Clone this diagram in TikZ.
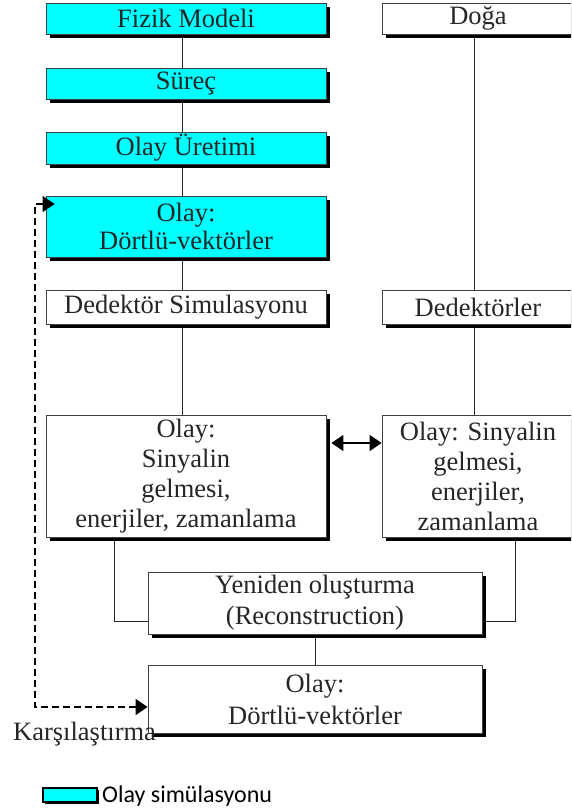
\documentclass[tikz,border=0pt]{standalone}
\usepackage{fontspec}
\setmainfont{Liberation Serif}
\newfontfamily\legendfont{Carlito}
\usetikzlibrary{shadows,arrows.meta,backgrounds}
\definecolor{simcyan}{RGB}{0,255,255}
\begin{document}
\begin{tikzpicture}[x=1pt,y=-1pt,
  every node/.style={font=\fontsize{26.5}{30}\selectfont, text=black!85},
  box/.style={rectangle, draw=black!75, line width=0.8pt, fill=white, inner sep=0pt, align=center,
    drop shadow={shadow xshift=4pt, shadow yshift=-4pt, fill=black, opacity=1}},
  simbox/.style={box, fill=simcyan},
  conn/.style={draw=black!85, line width=1pt},
  >={Triangle[length=12pt,width=16pt]}
]
\clip (0,0) rectangle (571,809);
% left column
\node[simbox, minimum width=280pt, minimum height=31pt] (fizik) at (186,18.5) {Fizik Modeli};
\node[simbox, minimum width=280pt, minimum height=31pt] (surec) at (186,83.5) {Süreç};
\node[simbox, minimum width=280pt, minimum height=32pt] (uretim) at (186,148) {Olay Üretimi};
\node[simbox, minimum width=280pt, minimum height=61pt] (dortlua) at (186,226.5) {Olay:\\[-2pt]Dörtlü-vektörler};
\node[box, minimum width=280pt, minimum height=34pt] (dedsim) at (186,307) {Dedektör Simulasyonu};
\node[box, minimum width=280pt, minimum height=122pt] (olaysim) at (186,476) {Olay:\\Sinyalin\\gelmesi,\\enerjiler, zamanlama};
% right column
\node[box, minimum width=192pt, minimum height=31pt] (doga) at (478,18.5) {Doğa};
\node[box, minimum width=192pt, minimum height=34pt] (dedek) at (478,307) {Dedektörler};
\node[box, minimum width=192pt, minimum height=122pt] (olaydet) at (478,476) {Olay: Sinyalin\\gelmesi,\\enerjiler,\\zamanlama};
% bottom
\node[box, minimum width=334pt, minimum height=62pt] (yeniden) at (315,603) {Yeniden oluşturma\\[1pt](Reconstruction)};
\node[box, minimum width=334pt, minimum height=68pt] (dortlub) at (315,699) {Olay:\\[2pt]Dörtlü-vektörler};
\node[anchor=base west, inner sep=0pt] (karsi) at (13,740) {Karşılaştırma};
% legend
\node[rectangle, fill=simcyan, draw=black, line width=1.4pt, minimum width=54pt, minimum height=14pt, inner sep=0pt,
  drop shadow={shadow xshift=1.5pt, shadow yshift=-1.5pt, fill=black, opacity=1}] (leg) at (70,795) {};
\node[anchor=base west, inner sep=0pt, font=\legendfont\fontsize{24}{28}\selectfont, text=black] (legtxt) at (102,802) {Olay simülasyonu};
% connectors
\begin{scope}[on background layer]
\draw[conn] ([xshift=-4pt]fizik.south) -- ([xshift=-4pt]surec.north);
\draw[conn] ([xshift=-4pt]surec.south) -- ([xshift=-4pt]uretim.north);
\draw[conn] ([xshift=-4pt]uretim.south) -- ([xshift=-4pt]dortlua.north);
\draw[conn] ([xshift=-4pt]dortlua.south) -- ([xshift=-4pt]dedsim.north);
\draw[conn] ([xshift=-4pt]dedsim.south) -- ([xshift=-4pt]olaysim.north);
\draw[conn] ([xshift=-4pt]doga.south) -- ([xshift=-4pt]dedek.north);
\draw[conn] ([xshift=-4pt]dedek.south) -- ([xshift=-4pt]olaydet.north);
\draw[conn] ([xshift=-72pt]olaysim.south) |- ([yshift=-18pt]yeniden.west);
\draw[conn] ([xshift=37pt]olaydet.south) |- ([yshift=-18pt]yeniden.east);
\draw[conn] (yeniden.south) -- (dortlub.north);
\end{scope}
\draw[line width=1.5pt, <->] ([xshift=5pt,yshift=33pt]olaysim.east) -- ([yshift=33pt]olaydet.west);
\draw[line width=1.5pt, dash pattern=on 7pt off 4pt, <->] ([xshift=9pt,yshift=22.5pt]dortlua.west) -| (35,707) -- ([yshift=-8pt]dortlub.west);
\end{tikzpicture}
\end{document}
